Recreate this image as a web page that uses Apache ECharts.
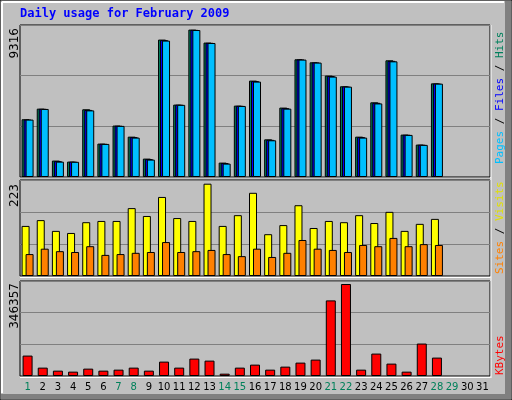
<!DOCTYPE html>
<html><head><meta charset="utf-8">
<script src="https://cdn.jsdelivr.net/npm/echarts@6/dist/echarts.min.js"></script>
<style>html,body{margin:0;padding:0;background:#c0c0c0}#c{width:512px;height:400px}</style>
</head><body><div id="c"></div>
<script>
const days = Array.from({length: 31}, (_, i) => String(i + 1));
const weekend = [1, 7, 8, 14, 15, 21, 22, 28, 29];
const hits = [3650,4320,1037,973,4280,2110,3250,2550,1163,8685,4575,9316,8495,910,4512,6093,2380,4386,7440,7250,6410,5735,2550,4720,7375,2680,2050,5920];
const files = [3630,4310,1000,970,4240,2100,3240,2520,1130,8650,4570,9300,8480,880,4500,6060,2350,4350,7430,7240,6380,5720,2520,4690,7340,2670,2040,5910];
const pages = [3628,4300,970,960,4210,2090,3230,2490,1100,8620,4560,9290,8470,846,4490,6030,2320,4320,7420,7230,6345,5710,2490,4650,7310,2660,2030,5900];
const visits = [121,135,109,104,130,133,133,164,145,191,140,133,223,121,147,201,101,123,171,116,133,130,147,128,155,109,126,138];
const sites = [53,66,60,58,72,51,53,56,58,82,58,60,63,53,48,66,46,56,87,66,63,58,75,72,92,72,77,75];
const kbytes = [76830,31490,20150,16370,27710,20150,23930,31490,20150,54160,31490,65490,57940,8820,31490,42820,23930,35270,50380,61710,284640,346357,23930,84390,46600,16370,122170,69270];

const chart = echarts.init(document.getElementById('c'));
const panels = [[25, 152], [180, 96], [281, 95]];
const maxes = [9316 * 152 / 147.4, 223 * 96 / 92.3, 346357 * 95 / 92];
const grids = panels.map(p => ({left: 20, right: 22, top: p[0], height: p[1], show: true,
  backgroundColor: '#c0c0c0', borderColor: '#000', borderWidth: 1}));
const xAxes = [0, 1, 2].map(i => ({type: 'category', gridIndex: i, data: days,
  axisLine: {show: false}, axisTick: {show: false}, splitLine: {show: false},
  axisLabel: i < 2 ? {show: false} : {show: true, interval: 0, margin: 6, fontFamily: 'DejaVu Sans', fontSize: 10,
    formatter: v => weekend.includes(+v) ? '{g|' + v + '}' : '{b|' + v + '}',
    rich: {g: {color: '#00805a', fontFamily: 'DejaVu Sans', fontSize: 10}, b: {color: '#000', fontFamily: 'DejaVu Sans', fontSize: 10}}}}));
const yAxes = [0, 1, 2].map(i => ({type: 'value', gridIndex: i, min: 0, max: maxes[i], interval: maxes[i] / 3,
  axisLabel: {show: false}, axisLine: {show: false}, axisTick: {show: false},
  splitLine: {lineStyle: {color: '#808080', width: 1}}}));
const bs = {borderColor: '#000', borderWidth: 1};
const series = [
  {type: 'bar', xAxisIndex: 0, yAxisIndex: 0, data: hits, barWidth: 8, barGap: '-75%', itemStyle: Object.assign({color: '#00805c'}, bs)},
  {type: 'bar', xAxisIndex: 0, yAxisIndex: 0, data: files, barWidth: 8, barGap: '-75%', itemStyle: Object.assign({color: '#0000ff'}, bs)},
  {type: 'bar', xAxisIndex: 0, yAxisIndex: 0, data: pages, barWidth: 8, barGap: '-75%', itemStyle: Object.assign({color: '#00bfff'}, bs)},
  {type: 'bar', xAxisIndex: 1, yAxisIndex: 1, data: visits, barWidth: 8, barGap: '-50%', itemStyle: Object.assign({color: '#ffff00'}, bs)},
  {type: 'bar', xAxisIndex: 1, yAxisIndex: 1, data: sites, barWidth: 8, barGap: '-50%', itemStyle: Object.assign({color: '#ff8000'}, bs)},
  {type: 'bar', xAxisIndex: 2, yAxisIndex: 2, data: kbytes, barWidth: 10, itemStyle: Object.assign({color: '#ff0000'}, bs)}
];
const vt = (text, x, y, color) => ({type: 'text', x: x, y: y, rotation: Math.PI / 2,
  style: {text: text, fill: color, font: '12px "DejaVu Sans"', align: 'right', verticalAlign: 'middle'}});
const rt = (parts, x, y) => ({type: 'text', x: x, y: y, rotation: Math.PI / 2,
  style: {text: parts.map(p => '{' + p[1] + '|' + p[0] + '}').join(''), font: '11px "DejaVu Sans Mono"',
    align: 'left', verticalAlign: 'middle',
    rich: {c: {fill: '#00bfff'}, b: {fill: '#0000ff'}, g: {fill: '#00805c'}, k: {fill: '#000'},
      o: {fill: '#ff8000'}, y: {fill: '#e0e000'}, r: {fill: '#ff0000'}}}});
chart.setOption({
  animation: false,
  backgroundColor: '#c0c0c0',
  grid: grids, xAxis: xAxes, yAxis: yAxes, series: series,
  graphic: [
    {type: 'rect', shape: {x: 0, y: 0, width: 512, height: 400}, style: {fill: 'none', stroke: '#000', lineWidth: 1}, z: -1},
    {type: 'rect', shape: {x: 505, y: 1, width: 6, height: 398}, style: {fill: '#808080'}},
    {type: 'rect', shape: {x: 1, y: 394, width: 510, height: 5}, style: {fill: '#808080'}},
    {type: 'line', shape: {x1: 2, y1: 2, x2: 504, y2: 2}, style: {stroke: '#fff', lineWidth: 2}},
    {type: 'line', shape: {x1: 2, y1: 2, x2: 2, y2: 393}, style: {stroke: '#fff', lineWidth: 2}},
    {type: 'line', shape: {x1: 20, y1: 177.5, x2: 490.5, y2: 177.5}, style: {stroke: '#fff'}},
    {type: 'line', shape: {x1: 20, y1: 277.5, x2: 490.5, y2: 277.5}, style: {stroke: '#fff'}},
    {type: 'line', shape: {x1: 20, y1: 377.5, x2: 490.5, y2: 377.5}, style: {stroke: '#fff'}},
    {type: 'line', shape: {x1: 491, y1: 25, x2: 491, y2: 378}, style: {stroke: '#fff'}},
    {type: 'text', x: 20, y: 14, style: {text: 'Daily usage for February 2009', fill: '#0000ff',
      font: 'bold 12px "DejaVu Sans Mono"', verticalAlign: 'middle'}},
    vt('9316', 15, 28, '#000'), vt('223', 15, 184, '#000'), vt('346357', 15, 283, '#000'),
    rt([['Pages', 'c'], [' / ', 'k'], ['Files', 'b'], [' / ', 'k'], ['Hits', 'g']], 500, 164),
    rt([['Sites', 'o'], [' / ', 'k'], ['Visits', 'y']], 500, 274),
    rt([['KBytes', 'r']], 500, 375)
  ]
});
</script></body></html>
